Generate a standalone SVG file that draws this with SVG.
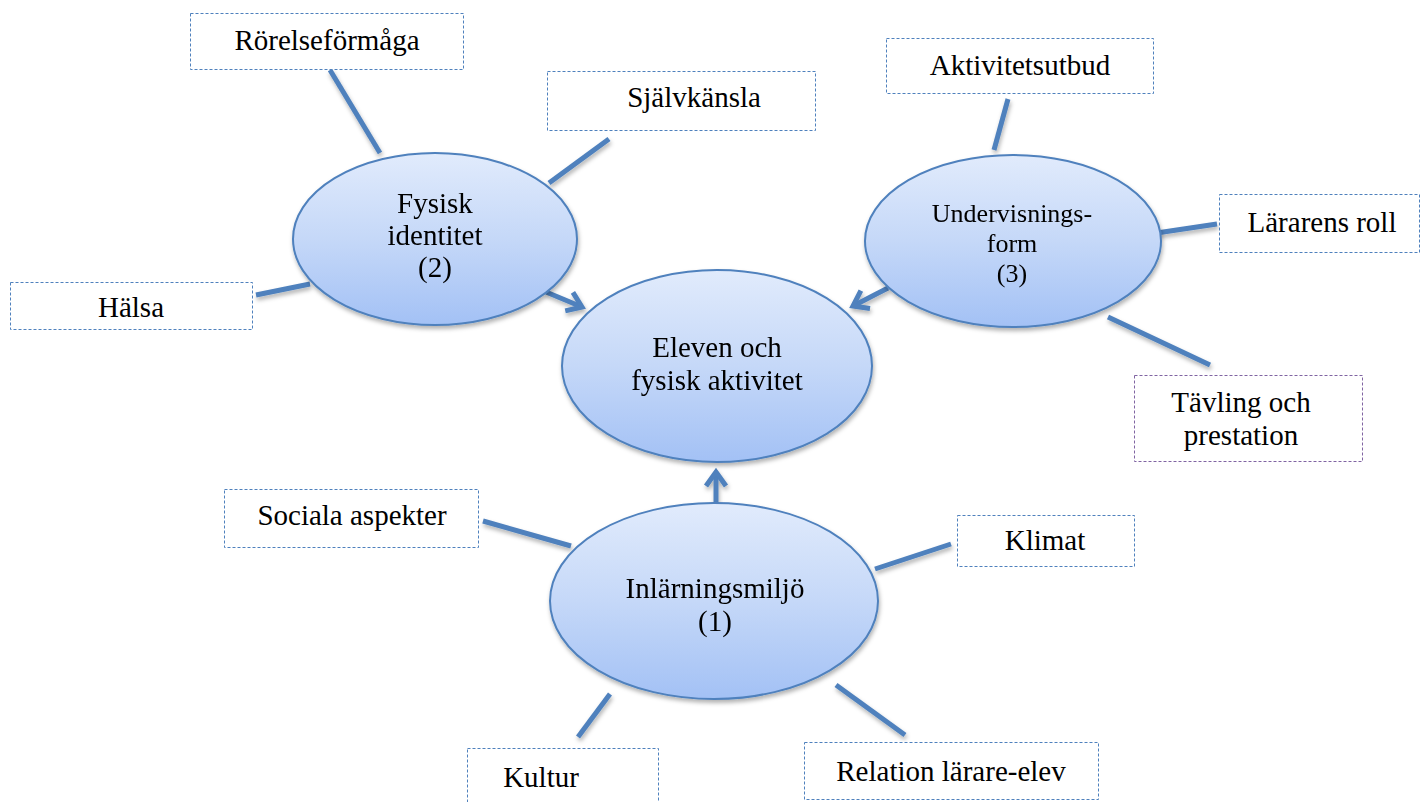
<svg xmlns="http://www.w3.org/2000/svg" width="1420" height="802" viewBox="0 0 1420 802">
<style>
text{font-family:"Liberation Serif","Times New Roman",serif;fill:#000;text-anchor:middle;font-size:29px}
.box{fill:#fff;stroke:#4f81bd;stroke-width:1;stroke-dasharray:3 2}
.boxp{fill:#fff;stroke:#8064a2;stroke-width:1;stroke-dasharray:3 2}
.ell{fill:url(#eg);stroke:#4f81bd;stroke-width:2}
.con{stroke:#4f81bd;stroke-width:5;fill:none}
.arr{stroke:#4f81bd;stroke-width:5;fill:none;marker-end:url(#ah)}
</style>
<defs>
<linearGradient id="eg" x1="0" y1="0" x2="0" y2="1">
<stop offset="0" stop-color="#e1ebfc"/>
<stop offset="0.5" stop-color="#c5d8f8"/>
<stop offset="1" stop-color="#a3c1f5"/>
</linearGradient>
<filter id="sh" x="-20%" y="-20%" width="140%" height="140%">
<feDropShadow dx="1" dy="3" stdDeviation="2" flood-color="#000" flood-opacity="0.3"/>
</filter>
<marker id="ah" markerUnits="userSpaceOnUse" markerWidth="30" markerHeight="30" viewBox="0 0 30 30" refX="24" refY="15" orient="auto">
<path d="M10,5 L24,15 L10,25" fill="none" stroke="#4f81bd" stroke-width="5" stroke-linecap="butt" stroke-linejoin="miter"/>
</marker>
</defs>

<g id="connectors" filter="url(#sh)">
<line class="con" x1="330" y1="70" x2="380" y2="153"/>
<line class="con" x1="609" y1="139" x2="549" y2="183"/>
<line class="con" x1="256" y1="295" x2="310" y2="284"/>
<line class="con" x1="1008" y1="99" x2="994" y2="150"/>
<line class="con" x1="1150" y1="234" x2="1217" y2="224"/>
<line class="con" x1="1108" y1="317" x2="1210" y2="365"/>
<line class="con" x1="483" y1="521" x2="571" y2="546"/>
<line class="con" x1="951" y1="544" x2="875" y2="569"/>
<line class="con" x1="610" y1="694" x2="578" y2="737"/>
<line class="con" x1="836" y1="685" x2="905" y2="735"/>
<line class="arr" x1="546" y1="292" x2="582" y2="307"/>
<line class="arr" x1="888" y1="288" x2="853" y2="306"/>
<line class="arr" x1="716" y1="504" x2="716" y2="472"/>
</g>

<g id="node-fysisk" filter="url(#sh)">
<ellipse class="ell" cx="435" cy="239" rx="142" ry="86"/>
<text x="435" y="213">Fysisk</text>
<text x="435" y="245">identitet</text>
<text x="435" y="277">(2)</text>
</g>

<g id="node-eleven" filter="url(#sh)">
<ellipse class="ell" cx="717" cy="366" rx="155" ry="96"/>
<text x="717" y="357">Eleven och</text>
<text x="717" y="390">fysisk aktivitet</text>
</g>

<g id="node-undervisning" filter="url(#sh)">
<ellipse class="ell" cx="1013" cy="241" rx="148" ry="86"/>
<text x="1012" y="222" style="font-size:26px">Undervisnings-</text>
<text x="1012" y="252" style="font-size:26px">form</text>
<text x="1012" y="282" style="font-size:26px">(3)</text>
</g>

<g id="node-inlarning" filter="url(#sh)">
<ellipse class="ell" cx="714" cy="601" rx="164" ry="98"/>
<text x="715" y="598">Inlärningsmiljö</text>
<text x="715" y="631">(1)</text>
</g>

<g id="box-rorelse">
<rect class="box" x="190.5" y="13.5" width="273" height="56"/>
<text x="327" y="50">Rörelseförmåga</text>
</g>
<g id="box-sjalv">
<rect class="box" x="547.5" y="71.5" width="268" height="59"/>
<text x="694" y="107">Självkänsla</text>
</g>
<g id="box-halsa">
<rect class="box" x="10.5" y="282.5" width="242" height="47"/>
<text x="131" y="317">Hälsa</text>
</g>
<g id="box-aktivitet">
<rect class="box" x="886.5" y="38.5" width="267" height="55"/>
<text x="1020" y="75">Aktivitetsutbud</text>
</g>
<g id="box-lararens">
<rect class="box" x="1219.5" y="194.5" width="200" height="58"/>
<text x="1322" y="232">Lärarens roll</text>
</g>
<g id="box-tavling">
<rect class="boxp" x="1134.5" y="375.5" width="228" height="86"/>
<text x="1241" y="412">Tävling och</text>
<text x="1241" y="445">prestation</text>
</g>
<g id="box-sociala">
<rect class="box" x="224.5" y="489.5" width="254" height="58"/>
<text x="352" y="525">Sociala aspekter</text>
</g>
<g id="box-klimat">
<rect class="box" x="957.5" y="515.5" width="177" height="51"/>
<text x="1045" y="550">Klimat</text>
</g>
<g id="box-kultur">
<rect class="box" x="467.5" y="748.5" width="191" height="56"/>
<text x="541" y="787">Kultur</text>
</g>
<g id="box-relation">
<rect class="box" x="804.5" y="742.5" width="294" height="57"/>
<text x="951" y="781">Relation lärare-elev</text>
</g>
</svg>
